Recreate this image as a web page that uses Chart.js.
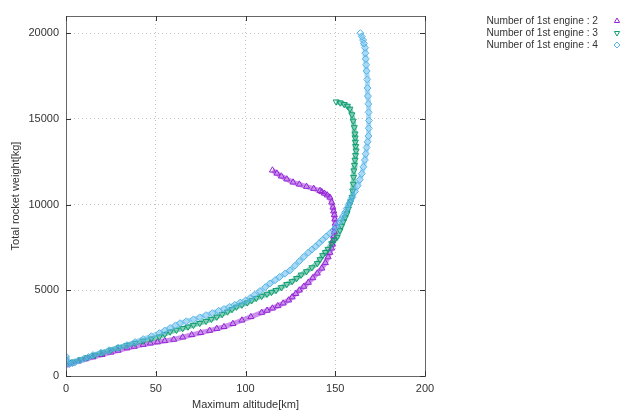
<!DOCTYPE html>
<html>
<head>
<meta charset="utf-8">
<script src="https://cdn.jsdelivr.net/npm/chart.js@4.4.1/dist/chart.umd.min.js"></script>
<style>
  html, body { margin: 0; padding: 0; background: #fff; }
  canvas { display: block; }
</style>
</head>
<body>
<canvas id="c" width="622" height="412"></canvas>
<script>
// ---- data ----
const seriesNames = ["Number of 1st engine : 2", "Number of 1st engine : 3", "Number of 1st engine : 4"];

// [Maximum altitude km, Total rocket weight kg]
const engine2 = [
  [0,640],[3,740],[7,870],[11,990],[15,1105],[20,1240],[25,1380],[29,1490],[34,1628],[38,1720],
  [43,1830],[47,1910],[51,1980],[55,2050],[60,2130],[65,2260],[70,2400],[75,2520],[80,2650],
  [84,2760],[88,2870],[93,3050],[98,3250],[103,3450],[109,3700],[112,3820],[115,3950],[118,4090],
  [121,4244],[124,4420],[126,4600],[128,4800],[130,5000],[132.5,5220],[135,5450],[137.5,5720],
  [140,5990],[142.5,6280],[144.5,6600],[146,6940],[147,7200],[148,7450],[148.4,7680],[148.7,7900],
  [149.1,8150],[149.5,8400],[149.8,8650],[150,8900],[149.8,9150],[149.5,9400],[149.1,9620],
  [148.7,9840],[148,10130],[147,10420],[145.5,10550],[144,10650],[142.5,10740],[141.5,10810],
  [138,10930],[134,11050],[130,11180],[126.5,11300],[123,11480],[120,11650],[117.5,11820],[115,12000]
];
const engine3 = [
  [0,700],[4,820],[8,950],[12,1085],[16,1220],[20.5,1370],[25,1520],[29.5,1660],[34,1800],
  [38.5,1920],[43,2050],[47.5,2170],[52,2290],[55,2440],[58,2580],[61.5,2680],[65,2780],[68,2870],
  [71,2965],[74.5,3080],[78,3200],[81,3320],[84,3450],[87,3600],[90,3750],[92.5,3890],[95,4030],
  [98,4150],[101,4280],[103.5,4410],[106,4540],[109,4660],[112,4780],[114.5,4890],[117,5000],
  [120,5170],[123,5350],[126,5520],[128.5,5700],[131,5900],[134,6100],[137,6330],[140,6570],
  [141.5,6800],[143,7035],[144.5,7220],[146,7400],[148,7730],[149.5,7920],[151,8100],[152.6,8490],
  [153.5,8750],[154.5,9000],[155.5,9240],[156.5,9480],[157.3,9740],[158,10000],[158.7,10210],
  [159.3,10420],[159.7,10800],[160,11200],[160.2,11600],[160.4,11980],[160.7,12300],[161,12600],
  [161.3,12870],[161.6,13140],[161.4,13400],[161.2,13650],[161.1,13900],[161,14130],[160.6,14500],
  [160,14880],[159.3,15250],[158.2,15580],[156.8,15750],[155,15850],[152.8,15940],[150.5,16000]
];
const engine4 = [
  [0,1150],[0,1050],[0,950],[0.4,850],[0.8,760],[2,700],[3.5,750],[5,800],[7.5,900],[10,1000],
  [12.5,1110],[15,1220],[19.5,1360],[24,1500],[29,1650],[34,1800],[38.5,1980],[43,2150],
  [47.5,2320],[52,2500],[55,2650],[58,2800],[61,2950],[63.5,3080],[67,3190],[71,3300],[74.5,3420],
  [78,3550],[81.5,3670],[85,3800],[88,3910],[91,4030],[94,4150],[97,4280],[100,4400],[102.5,4540],
  [105,4740],[108,4950],[111,5180],[113.6,5400],[116.5,5590],[119,5780],[122,5970],[124.8,6160],
  [127.5,6430],[130,6700],[132.5,6950],[135,7200],[137,7380],[139,7550],[141,7750],[143,7950],
  [145,8140],[147,8320],[149,8520],[150.5,8720],[152,8910],[153,9100],[154.3,9320],[155.5,9550],
  [156.5,9780],[157.5,10000],[158.5,10210],[159.5,10420],[161,10760],[162.5,11100],[163.7,11450],
  [164.8,11800],[165.7,12200],[166.5,12600],[167,12960],[167.5,13330],[168,13660],[168.5,14000],
  [168.7,14450],[168.8,14900],[168.6,15380],[168.4,15870],[168.2,16330],[168,16800],[167.8,17300],
  [167.5,17790],[167.2,18150],[167,18500],[166.8,18830],[166.6,19150],[166,19400],[165.5,19600],
  [164.8,19800],[164,20000]
];

const xTicks = [0, 50, 100, 150, 200];
const yTicks = [0, 5000, 10000, 15000, 20000];
const xRange = [0, 200];
const yRange = [0, 21000];

// ---- styling ----
const colors = ["#9424d6", "#0f9e72", "#56b4e9"];
const lineColors = ["rgba(148,36,214,0.5)", "rgba(15,158,114,0.5)", "rgba(86,180,233,0.5)"];
const styles = [
  { pointStyle: "triangle", rotation: 0 },
  { pointStyle: "triangle", rotation: 180 },
  { pointStyle: "rectRot", rotation: 0 }
];
const FONT = "'Liberation Sans', Arial, sans-serif";
const TEXT = "#333";

function toPts(arr) { return arr.map(p => ({ x: p[0], y: p[1] })); }
const allData = [engine2, engine3, engine4];

const datasets = allData.map((d, i) => ({
  label: seriesNames[i],
  data: toPts(d),
  showLine: true,
  borderColor: lineColors[i],
  borderWidth: 5,
  pointStyle: styles[i].pointStyle,
  pointRotation: styles[i].rotation,
  pointRadius: 3.5,
  pointBorderWidth: 1,
  pointBorderColor: colors[i],
  pointBackgroundColor: "rgba(0,0,0,0)",
  order: 2 - i
}));

const framePlugin = {
  id: "frame",
  afterDatasetsDraw(chart) {
    const { ctx, chartArea: a, scales } = chart;
    ctx.save();
    ctx.strokeStyle = "#666";
    ctx.lineWidth = 1;
    ctx.strokeRect(Math.round(a.left) + 0.5, Math.round(a.top) + 0.5,
      Math.round(a.right - a.left), Math.round(a.bottom - a.top));
    ctx.strokeStyle = "#333";
    const L = 5;
    ctx.beginPath();
    xTicks.forEach(v => {
      const x = Math.round(scales.x.getPixelForValue(v)) + 0.5;
      ctx.moveTo(x, a.bottom); ctx.lineTo(x, a.bottom - L);
      ctx.moveTo(x, a.top); ctx.lineTo(x, a.top + L);
    });
    yTicks.forEach(v => {
      const y = Math.round(scales.y.getPixelForValue(v)) + 0.5;
      ctx.moveTo(a.left, y); ctx.lineTo(a.left + L, y);
      ctx.moveTo(a.right, y); ctx.lineTo(a.right - L, y);
    });
    ctx.stroke();
    ctx.restore();
  },
  afterDraw(chart) {
    const ctx = chart.ctx;
    ctx.save();
    ctx.font = "10.2px " + FONT;
    ctx.textAlign = "right";
    ctx.textBaseline = "middle";
    const ys = [21, 33, 45];
    seriesNames.forEach((name, i) => {
      ctx.fillStyle = TEXT;
      ctx.fillText(name, 598, ys[i]);
      ctx.strokeStyle = colors[i];
      ctx.fillStyle = "rgba(0,0,0,0)";
      ctx.lineWidth = 1;
      Chart.helpers.drawPoint(ctx, { pointStyle: styles[i].pointStyle, rotation: styles[i].rotation, radius: 3, borderWidth: 1 }, 617, ys[i]);
    });
    ctx.restore();
  }
};

new Chart(document.getElementById("c"), {
  type: "scatter",
  data: { datasets },
  options: {
    responsive: false,
    devicePixelRatio: 1,
    animation: false,
    layout: { padding: { left: 0, top: 16, right: 197, bottom: 0 } },
    plugins: { legend: { display: false }, tooltip: { enabled: false } },
    scales: {
      x: {
        type: "linear",
        min: xRange[0], max: xRange[1],
        afterFit(s) { s.height = 36; },
        afterBuildTicks(s) { s.ticks = xTicks.map(v => ({ value: v })); },
        grid: { color: "#c4c4c4", lineWidth: 1, drawTicks: false },
        border: { display: false, dash: [1, 3] },
        ticks: { color: TEXT, font: { family: FONT, size: 11 }, padding: 6, maxRotation: 0, callback: v => String(v) },
        title: { display: true, text: "Maximum altitude[km]", color: TEXT, font: { family: FONT, size: 11 }, padding: { top: 0, bottom: 0 } }
      },
      y: {
        type: "linear",
        min: yRange[0], max: yRange[1],
        afterFit(s) { s.width = 66; },
        afterBuildTicks(s) { s.ticks = yTicks.map(v => ({ value: v })); },
        grid: { color: "#c4c4c4", lineWidth: 1, drawTicks: false },
        border: { display: false, dash: [1, 3] },
        ticks: { color: TEXT, font: { family: FONT, size: 11 }, padding: 7, callback: v => String(v) },
        title: { display: true, text: "Total rocket weight[kg]", color: TEXT, font: { family: FONT, size: 11 }, padding: { top: 9, bottom: 0 } }
      }
    }
  },
  plugins: [framePlugin]
});
</script>
</body>
</html>
